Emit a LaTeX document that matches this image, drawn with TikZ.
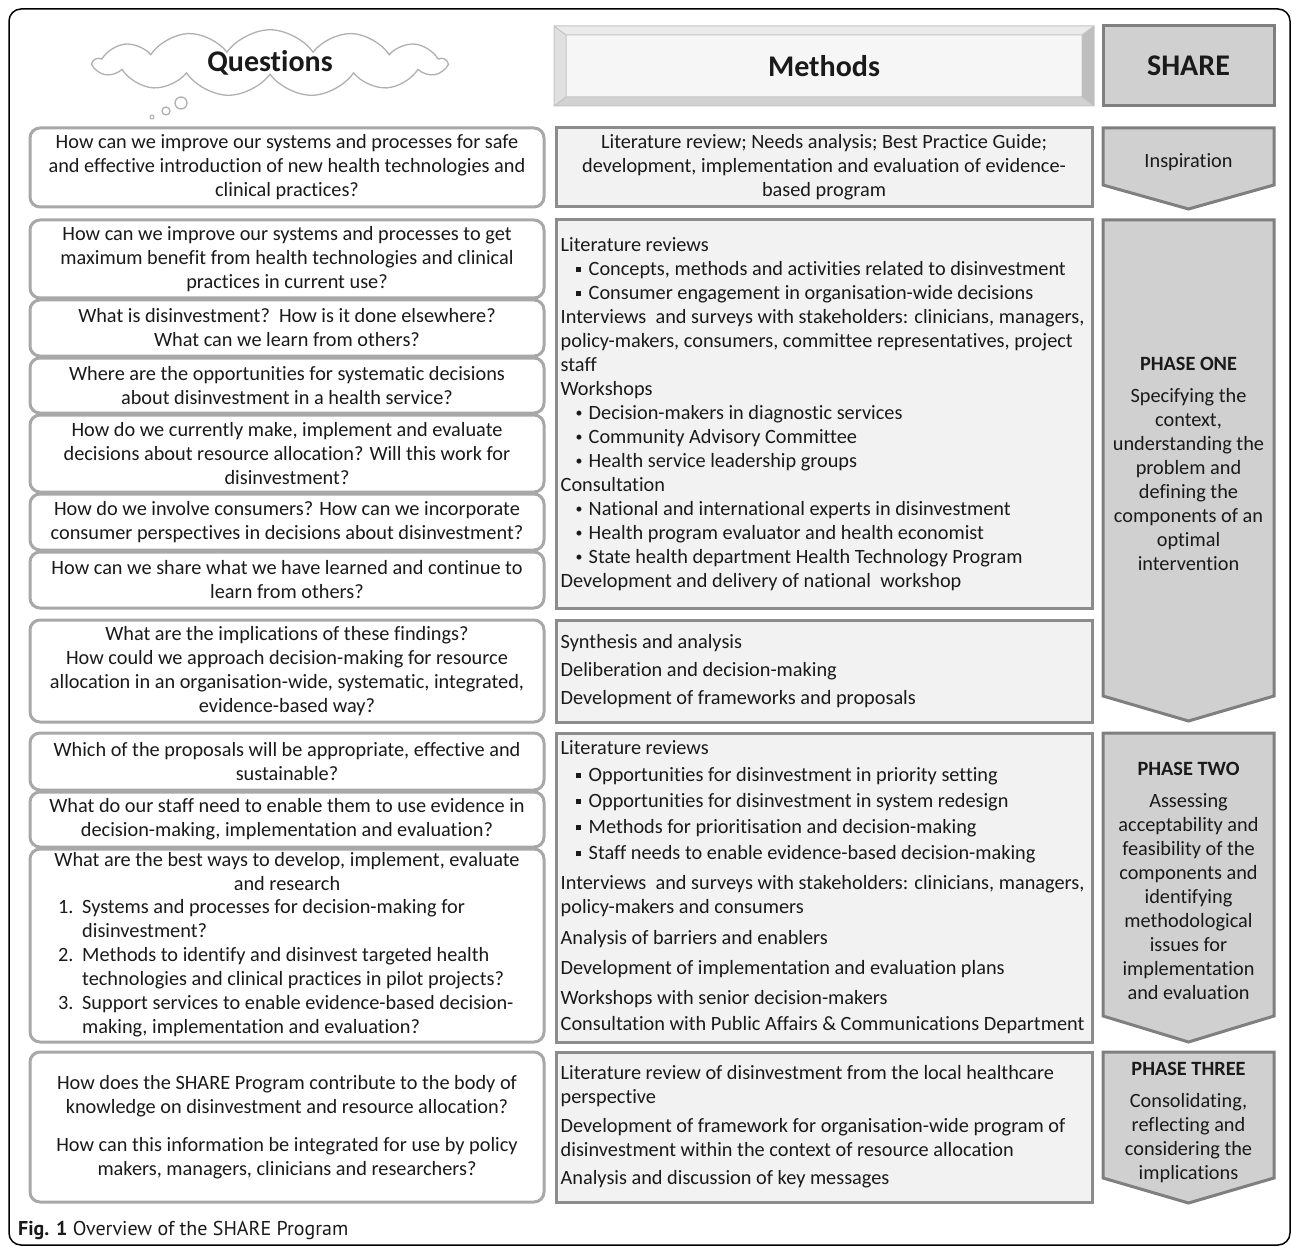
\documentclass[tikz,border=0pt]{standalone}
\usepackage{fontspec}
\setmainfont{Carlito}[Ligatures={NoCommon}]
\newfontfamily\capfont{PT Sans}
\usetikzlibrary{shapes.symbols,calc}
\definecolor{qgray}{HTML}{A8A8A8}
\definecolor{mdraw}{HTML}{8C8C8C}
\definecolor{mfill}{HTML}{F2F2F2}
\definecolor{afill}{HTML}{D0D0D0}
\definecolor{adraw}{HTML}{7F7F7F}
\definecolor{txt}{HTML}{1A1A1A}
\definecolor{cloudgray}{HTML}{B0B0B0}
\definecolor{bevtop}{HTML}{EBEBEB}
\definecolor{bevleft}{HTML}{E0E0E0}
\definecolor{bevright}{HTML}{BEBEBE}
\definecolor{bevbot}{HTML}{D2D2D2}
\definecolor{bevface}{HTML}{F6F6F6}
\definecolor{bevline}{HTML}{C4C4C4}
\newcommand{\sqitem}{\hspace*{15pt}\rule[3.5pt]{5pt}{5pt}\hspace*{8pt}}
\newcommand{\rditem}{\hspace*{15pt}\makebox[13pt][l]{\raisebox{1.5pt}{\fontsize{14}{14}\selectfont\textbullet}}}
\begin{document}
\begin{tikzpicture}[x=1pt,y=-1pt,
  bodyfont/.style={font=\fontsize{20.3}{24}\selectfont},
  qbox/.style={draw=qgray, line width=3pt, rounded corners=10pt, fill=white, align=center, inner sep=0pt, text=txt, bodyfont, minimum width=514pt},
  mbox/.style={draw=mdraw, line width=3pt, fill=mfill, inner sep=0pt, minimum width=536pt},
  mtext/.style={align=left, inner sep=0pt, text=txt, bodyfont, anchor=west},
  phase/.style={draw=adraw, line width=3pt, fill=afill, line join=miter},
  ptext/.style={align=center, inner sep=0pt, text=txt, bodyfont},
  headfont/.style={font=\fontsize{30}{36}\selectfont\bfseries}
]
\useasboundingbox (0,0) rectangle (1292,1246);
% outer frame
\draw[line width=1.5pt, black, rounded corners=12pt] (9,9) rectangle (1290,1245);

% cloud header
\node[cloud, cloud puffs=13, cloud puff arc=110, cloud ignores aspect, draw=cloudgray, line width=1.3pt, fill=white, minimum width=352pt, minimum height=60pt, text=txt, headfont] (cloud) at (270,63) {Questions};
\draw[cloudgray, line width=1.3pt, fill=white] (181,103) circle[radius=6pt];
\draw[cloudgray, line width=1.3pt, fill=white] (166,111) circle[radius=4pt];
\draw[cloudgray, line width=1.1pt, fill=white] (152,117) circle[radius=2pt];

% methods bevel header
\fill[bevtop] (554,26) -- (1094,26) -- (1082,35) -- (566,35) -- cycle;
\fill[bevleft] (554,26) -- (566,35) -- (566,97) -- (554,106) -- cycle;
\fill[bevright] (1094,26) -- (1094,106) -- (1082,97) -- (1082,35) -- cycle;
\fill[bevbot] (554,106) -- (1094,106) -- (1082,97) -- (566,97) -- cycle;
\fill[bevface] (566,35) rectangle (1082,97);
\draw[bevline, line width=1pt] (554,26) rectangle (1094,106) (566,35) rectangle (1082,97)
  (554,26) -- (566,35) (1094,26) -- (1082,35) (554,106) -- (566,97) (1094,106) -- (1082,97);
\node[text=txt, headfont] (methods) at (824,66) {Methods};

% SHARE header
\node[draw=adraw, line width=3pt, fill=afill, minimum width=171pt, minimum height=80pt, text=txt, headfont] (share) at (1188.5,66) {SHARE};

% question boxes
\node[qbox, minimum height=79pt] (q0) at (287,167.5) {How can we improve our systems and processes for safe\\and effective introduction of new health technologies and\\clinical practices?};
\node[qbox, minimum height=78pt] (q1) at (287,259) {How can we improve our systems and processes to get\\maximum benefit from health technologies and clinical\\practices in current use?};
\node[qbox, minimum height=56pt] (q2) at (287,328) {What is disinvestment?\ \ How is it done elsewhere?\\What can we learn from others?};
\node[qbox, minimum height=55pt] (q3) at (287,385.5) {Where are the opportunities for systematic decisions\\about disinvestment in a health service?};
\node[qbox, minimum height=77pt] (q4) at (287,453.5) {How do we currently make, implement and evaluate\\decisions about resource allocation? Will this work for\\disinvestment?};
\node[qbox, minimum height=56pt] (q5) at (287,522) {How do we involve consumers? How can we incorporate\\consumer perspectives in decisions about disinvestment?};
\node[qbox, minimum height=56pt] (q6) at (287,580) {How can we share what we have learned and continue to\\learn from others?};
\node[qbox, minimum height=102pt] (q7) at (287,671) {What are the implications of these findings?\\How could we approach decision-making for resource\\allocation in an organisation-wide, systematic, integrated,\\evidence-based way?};
\node[qbox, minimum height=57pt] (q8) at (287,761.5) {Which of the proposals will be appropriate, effective and\\sustainable?};
\node[qbox, minimum height=55pt] (q9) at (287,819.5) {What do our staff need to enable them to use evidence in\\decision-making, implementation and evaluation?};
\node[qbox, minimum height=193pt] (q10) at (287,945.5) {};
\node[ptext] (q10head) at (287,872) {What are the best ways to develop, implement, evaluate\\and research};
\node[mtext] (q10list) at (58,968) {\makebox[24pt][l]{1.}Systems and processes for decision-making for\\
\hspace*{24pt}disinvestment?\\
\makebox[24pt][l]{2.}Methods to identify and disinvest targeted health\\
\hspace*{24pt}technologies and clinical practices in pilot projects?\\
\makebox[24pt][l]{3.}Support services to enable evidence-based decision-\\
\hspace*{24pt}making, implementation and evaluation?};
\node[qbox, minimum height=150pt] (q11) at (287,1127) {How does the SHARE Program contribute to the body of\\knowledge on disinvestment and resource allocation?\\[14pt]How can this information be integrated for use by policy\\makers, managers, clinicians and researchers?};

% methods boxes
\node[mbox, minimum height=79pt, align=center, text=txt, bodyfont] (m0) at (824,167.5) {Literature review; Needs analysis; Best Practice Guide;\\development, implementation and evaluation of evidence-\\based program};
\node[mbox, minimum height=388pt] (m1) at (824,414) {};
\node[mtext] (m1t) at ($(m1.west)+(6,0)$) {Literature reviews\\
\sqitem Concepts, methods and activities related to disinvestment\\
\sqitem Consumer engagement in organisation-wide decisions\\
Interviews\ \ and surveys with stakeholders: clinicians, managers,\\
policy-makers, consumers, committee representatives, project\\
staff\\
Workshops\\
\rditem Decision-makers in diagnostic services\\
\rditem Community Advisory Committee\\
\rditem Health service leadership groups\\
Consultation\\
\rditem National and international experts in disinvestment\\
\rditem Health program evaluator and health economist\\
\rditem State health department Health Technology Program\\
Development and delivery of national\ \ workshop};
\node[mbox, minimum height=102pt] (m2) at (824,671) {};
\node[mtext] (m2t) at ($(m2.west)+(6,0)$) {Synthesis and analysis\\[4pt]
Deliberation and decision-making\\[4pt]
Development of frameworks and proposals};
\node[mbox, minimum height=309pt] (m3) at (824,887.5) {};
\node[mtext] (m3t) at ($(m3.west)+(6,0)$) {Literature reviews\\[3pt]
\sqitem Opportunities for disinvestment in priority setting\\[2pt]
\sqitem Opportunities for disinvestment in system redesign\\[2pt]
\sqitem Methods for prioritisation and decision-making\\[2pt]
\sqitem Staff needs to enable evidence-based decision-making\\[6pt]
Interviews\ \ and surveys with stakeholders: clinicians, managers,\\
policy-makers and consumers\\[7pt]
Analysis of barriers and enablers\\[6pt]
Development of implementation and evaluation plans\\[6pt]
Workshops with senior decision-makers\\[2pt]
Consultation with Public Affairs \& Communications Department};
\node[mbox, minimum height=150pt] (m4) at (824,1127) {};
\node[mtext] (m4t) at ($(m4.west)+(6,0)$) {Literature review of disinvestment from the local healthcare\\
perspective\\[5pt]
Development of framework for organisation-wide program of\\
disinvestment within the context of resource allocation\\[4pt]
Analysis and discussion of key messages};

% SHARE phase arrows
\draw[phase] (1103,128) -- (1274,128) -- (1274,185) -- (1188.5,209) -- (1103,185) -- cycle;
\node[ptext] (insp) at (1188.5,162) {Inspiration};
\draw[phase] (1103,220) -- (1274,220) -- (1274,696) -- (1188.5,721) -- (1103,696) -- cycle;
\node[ptext] (p1) at (1188.5,464) {\textbf{PHASE ONE}\\[8pt]Specifying the\\context,\\understanding the\\problem and\\defining the\\components of an\\optimal\\intervention};
\draw[phase] (1103,733) -- (1274,733) -- (1274,1016) -- (1188.5,1042) -- (1103,1016) -- cycle;
\node[ptext] (p2) at (1188.5,881) {\textbf{PHASE TWO}\\[8pt]Assessing\\acceptability and\\feasibility of the\\components and\\identifying\\methodological\\issues for\\implementation\\and evaluation};
\draw[phase] (1103,1052) -- (1274,1052) -- (1274,1178) -- (1188.5,1203) -- (1103,1178) -- cycle;
\node[ptext] (p3) at (1188.5,1122) {\textbf{PHASE THREE}\\[8pt]Consolidating,\\reflecting and\\considering the\\implications};

% caption
\node[anchor=base west, inner sep=0pt, text=txt, font=\capfont\fontsize{20}{24}\selectfont] (cap) at (18,1235) {\textbf{Fig. 1} Overview of the SHARE Program};
\end{tikzpicture}
\end{document}
